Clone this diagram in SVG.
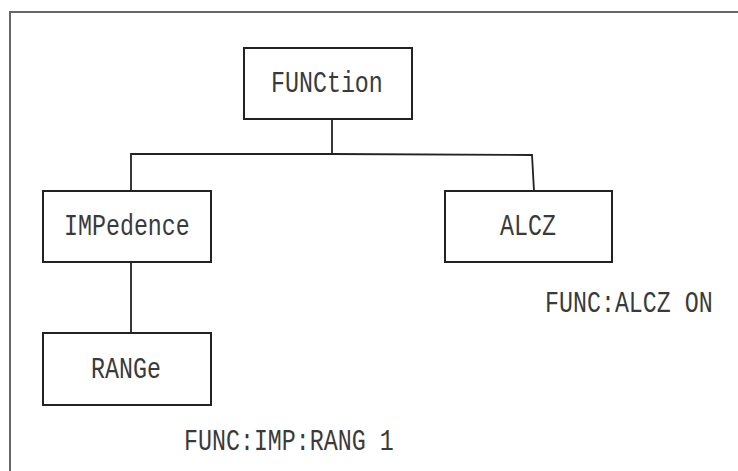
<svg xmlns="http://www.w3.org/2000/svg" width="738" height="471" viewBox="0 0 738 471">
<style>
.box{fill:#fff;stroke:#222;stroke-width:2}
.lbl{font-family:"Liberation Mono","Courier New",monospace;font-size:23.3px;fill:#3a3a3a}
.con{stroke:#222;stroke-width:1.8;fill:none}
</style>
<rect width="738" height="471" fill="#fff"/>
<path d="M10,471 V12 H738" fill="none" stroke="#666" stroke-width="2"/>
<g id="connectors">
<path class="con" d="M332,119 V154"/>
<path class="con" d="M131,191 V154 L332,154 L532,155 L534,191"/>
<path class="con" d="M131,262 V333"/>
</g>
<g id="function">
<rect class="box" x="244" y="48" width="168" height="71"/>
<text class="lbl" transform="translate(271,92) scale(1,1.3)">FUNCtion</text>
</g>
<g id="impedence">
<rect class="box" x="43" y="191" width="168" height="71"/>
<text class="lbl" transform="translate(64,235) scale(1,1.3)">IMPedence</text>
</g>
<g id="alcz">
<rect class="box" x="445" y="191" width="167" height="71"/>
<text class="lbl" transform="translate(500,235) scale(1,1.3)">ALCZ</text>
</g>
<g id="range">
<rect class="box" x="43" y="333" width="168" height="72"/>
<text class="lbl" transform="translate(91,378) scale(1,1.3)">RANGe</text>
</g>
<g id="notes">
<text class="lbl" transform="translate(545,312) scale(1,1.3)">FUNC:ALCZ ON</text>
<text class="lbl" transform="translate(184,450) scale(1,1.3)">FUNC:IMP:RANG 1</text>
</g>
</svg>
